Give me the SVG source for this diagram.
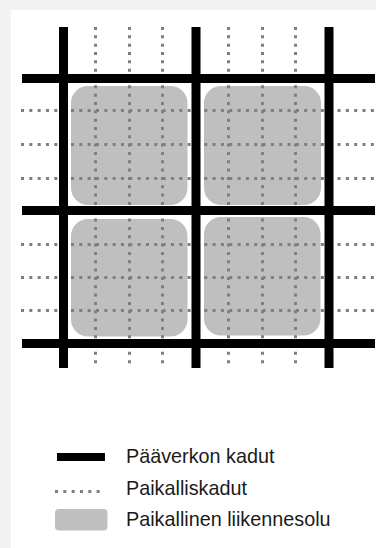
<svg xmlns="http://www.w3.org/2000/svg" width="376" height="548" viewBox="0 0 376 548">
<style>
.cell{fill:#bfbfbf}
.main{stroke:#000;stroke-width:9;fill:none}
.local{stroke:#7f7f7f;stroke-width:3;stroke-dasharray:3 5.33;fill:none}
.lbl{font-family:"Liberation Sans",Arial,sans-serif;font-size:19.8px;fill:#1a1a1a}
</style>
<rect x="0" y="0" width="376" height="548" fill="#f2f2f2"/>
<rect x="11" y="10" width="365" height="538" fill="#ffffff"/>
<g id="cell-1"><rect class="cell" x="71" y="86" width="116.5" height="119" rx="17"/></g>
<g id="cell-2"><rect class="cell" x="204" y="86" width="117" height="119" rx="17"/></g>
<g id="cell-3"><rect class="cell" x="71" y="219" width="116.5" height="117.5" rx="17"/></g>
<g id="cell-4"><rect class="cell" x="204" y="217" width="116.5" height="118.5" rx="17"/></g>
<g id="connectors">
<g id="local-streets">
<line class="local" x1="95.5" y1="27" x2="95.5" y2="368"/>
<line class="local" x1="129.5" y1="27" x2="129.5" y2="368"/>
<line class="local" x1="162.5" y1="27" x2="162.5" y2="368"/>
<line class="local" x1="228.5" y1="27" x2="228.5" y2="368"/>
<line class="local" x1="262.5" y1="27" x2="262.5" y2="368"/>
<line class="local" x1="295.5" y1="27" x2="295.5" y2="368"/>
<line class="local" x1="21" y1="110.5" x2="376" y2="110.5"/>
<line class="local" x1="21" y1="144.5" x2="376" y2="144.5"/>
<line class="local" x1="21" y1="178.5" x2="376" y2="178.5"/>
<line class="local" x1="21" y1="244.5" x2="376" y2="244.5"/>
<line class="local" x1="21" y1="277.5" x2="376" y2="277.5"/>
<line class="local" x1="21" y1="310.5" x2="376" y2="310.5"/>
</g>
<g id="main-streets">
<line class="main" x1="63.5" y1="27" x2="63.5" y2="368"/>
<line class="main" x1="196" y1="27" x2="196" y2="368"/>
<line class="main" x1="329" y1="27" x2="329" y2="368"/>
<line class="main" x1="22" y1="78.5" x2="375" y2="78.5"/>
<line class="main" x1="22" y1="210.5" x2="375" y2="210.5"/>
<line class="main" x1="22" y1="343.5" x2="375" y2="343.5"/>
</g>
</g>
<g id="legend">
<rect x="57" y="453" width="48" height="8" fill="#000"/>
<line class="local" x1="55" y1="491.5" x2="105" y2="491.5"/>
<rect x="55" y="509" width="52.5" height="21.5" rx="4" fill="#bfbfbf"/>
<text class="lbl" x="126" y="463">Pääverkon kadut</text>
<text class="lbl" x="126" y="495">Paikalliskadut</text>
<text class="lbl" x="126" y="525.5">Paikallinen liikennesolu</text>
</g>
</svg>
